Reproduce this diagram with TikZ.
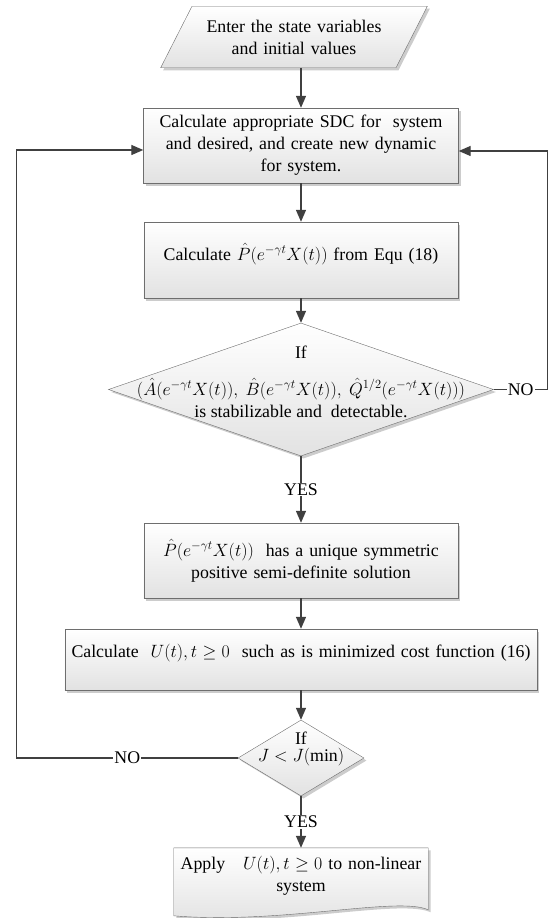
\documentclass[tikz,border=0pt]{standalone}
\usepackage{fix-cm}
\usepackage{amsmath,amssymb}
\usepackage{fontspec}
\setmainfont{Liberation Serif}
\usetikzlibrary{
	arrows.meta,calc,
	backgrounds,
	shadows,
	shapes.geometric,
	matrix,
	positioning
}
\definecolor{linegray}{RGB}{64,64,64}
\definecolor{bordergray}{RGB}{110,110,110}
\definecolor{fillgray}{RGB}{226,226,226}
\newcommand{\flowfont}{\fontsize{17.8}{22}\selectfont}

\tikzset{
	shade/.style={drop shadow={shadow xshift=2.5pt,shadow yshift=-2.5pt,fill=black!40,opacity=.5}},
	block/.style={draw=bordergray, top color=white, bottom color=fillgray, shade, align=center, inner xsep=4pt},
	process/.style={block, rectangle},
	input/.style={block, trapezium, trapezium left angle=63, trapezium right angle=117, inner ysep=13.5pt},
	decision/.style={block, diamond, inner sep=0pt},
	document/.style={align=center, inner xsep=4pt},
	flow/.style={color=linegray, line width=1.4pt, -{Triangle[length=12pt,width=10pt]}},
	answer/.style={font=\flowfont, text=black, fill=white, inner sep=1pt}
}

\begin{document}
\begin{tikzpicture}[x=1pt,y=1pt]
\matrix (m) [matrix of nodes,ampersand replacement=\&, row sep={0pt,between origins}, %distances between centres
nodes={anchor=center, font=\flowfont}]
{ |[input, text width=196pt, xshift=-7pt]| {Enter the state variables\\and initial values} \\[108.5pt,between origins]
	|[process, text width=307pt, minimum height=75pt]| {Calculate appropriate SDC for~ system\\and desired, and create new dynamic\\for system.} \\[114.5pt,between origins]
	|[process, text width=306pt, minimum height=76pt]| {Calculate $\hat{P}(e^{-\gamma t}X(t))$ from Equ (18)\\[-6pt]\mbox{}} \\[129.5pt,between origins]
	|[decision, minimum width=385pt, minimum height=133pt]| \mbox{} \\[171pt,between origins]
	|[process, text width=306pt, minimum height=75pt]| {$\hat{P}(e^{-\gamma t}X(t))$~ has a unique symmetric\\positive semi-definite solution} \\[99pt,between origins]
	|[process, text width=464pt, minimum height=61pt]| {Calculate~ $U(t),t\geq 0$~ such as is minimized cost function (16)\\[-4pt]\mbox{}} \\[98.5pt,between origins]
	|[decision, minimum width=126pt, minimum height=76pt]| \mbox{} \\[118pt,between origins]
	|[document, text width=246pt, minimum width=254pt, minimum height=56pt]| {Apply~~ $U(t),t\geq 0$ to non-linear\\system} \\ };

% texts of the two tests
\node[font=\flowfont, align=center, yshift=8pt] (d1t) at (m-4-1) {If\\[15pt]$(\hat{A}(e^{-\gamma t}X(t)),~\hat{B}(e^{-\gamma t}X(t)),~\hat{Q}^{1/2}(e^{-\gamma t}X(t)))$\\is stabilizable and~ detectable.};
\node[font=\flowfont, align=center, yshift=9pt] (d2t) at (m-7-1) {If\\[-5pt]$J<J(\min)$};

% document shape with wavy bottom
\begin{scope}[on background layer]
\path[draw=bordergray, top color=white, bottom color=fillgray, shade] (m-8-1.north west) -- (m-8-1.north east) -- ([yshift=-62pt]m-8-1.north east) .. controls +(-30,14) and +(106,-9) .. ([yshift=-68pt]m-8-1.north west) -- cycle;
\end{scope}

\path[flow](m-1-1.south -| m-2-1.north) edge (m-2-1)
(m-2-1) edge (m-3-1)
(m-3-1) edge (m-4-1)
(m-4-1) edge node[answer]{YES} (m-5-1)
(m-5-1) edge (m-6-1)
(m-6-1) edge (m-7-1)
(m-7-1) edge node[answer]{YES} (m-8-1);

\coordinate (rt) at ([xshift=54pt]m-4-1.east);
\coordinate (lt) at ([xshift=-221pt]m-7-1.west);
\draw[flow] (m-4-1.east) -- node[answer]{NO} (rt) |- ([yshift=-5.5pt]m-2-1.east);
\draw[flow] (m-7-1.west) -- node[answer]{NO} (lt) |- ([yshift=-4.5pt]m-2-1.west);

\pgfresetboundingbox
\path[use as bounding box] ([shift={(-301pt,37pt)}]m-2-1.center |- m-1-1.center) rectangle ++(548pt,-918pt);
\end{tikzpicture}
\end{document}
